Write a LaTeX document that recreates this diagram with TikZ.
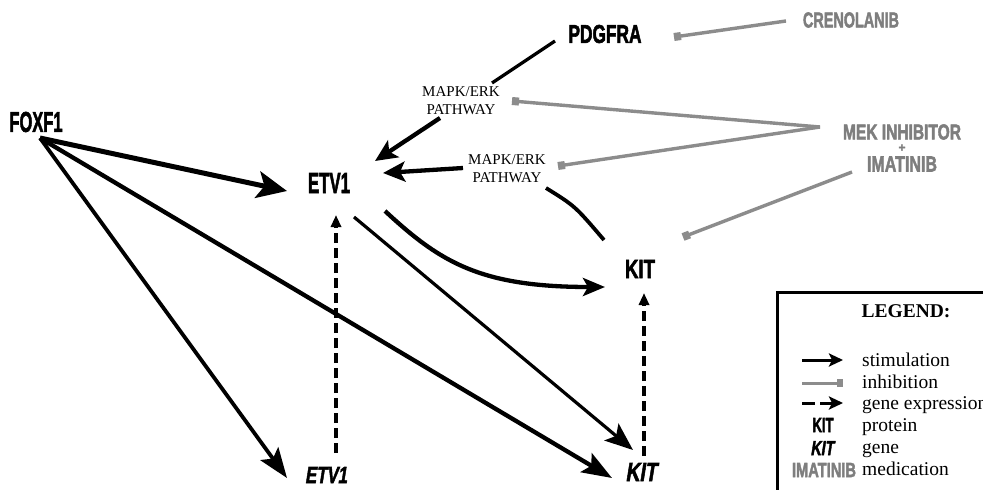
\documentclass[tikz,border=0pt]{standalone}
\usepackage{graphicx}
\usepackage{fontspec}
\setmainfont{Liberation Serif}
\setsansfont{Liberation Sans}
\newfontfamily\heavyfont[FakeBold=2.5]{Liberation Sans Bold}
\newfontfamily\heavyitfont[FakeBold=2.5,FakeSlant=0.22]{Liberation Sans Bold}
\usetikzlibrary{arrows.meta}
\definecolor{medgray}{HTML}{7E7E7E}
\definecolor{inhgray}{HTML}{8C8C8C}
\newcommand{\cnd}[3]{\resizebox{#1pt}{#2pt}{\heavyfont #3}}
\newcommand{\cndi}[3]{\resizebox{#1pt}{#2pt}{\heavyitfont #3}}
\tikzset{
  lbl/.style={inner sep=0pt, outer sep=0pt},
  pathway/.style={inner sep=0pt, align=center, font=\fontsize{15}{18}\selectfont},
  stim/.style={line width=4pt, -{Stealth[length=26pt,width=22pt,inset=6pt]}},
  inhib/.style={draw=inhgray, line width=3.4pt, -{Square[length=7pt,width=8pt]}},
  expr/.style={line width=3.2pt, dash pattern=on 10pt off 5pt, -{Triangle[length=12pt,width=10pt]}},
  plain/.style={line width=3.2pt},
  legtxt/.style={inner sep=0pt, anchor=base west, font=\fontsize{19.5}{22}\selectfont},
}
\begin{document}
\begin{tikzpicture}[x=1pt,y=-1pt]
\useasboundingbox (0,0) rectangle (983,490);
\clip (0,0) rectangle (983,490);
\fill[white] (0,0) rectangle (983,490);

% main labels
\node[lbl] (foxf1) at (36,122) {\cnd{53}{20}{FOXF1}};
\node[lbl] (etv1p) at (329,183) {\cnd{42}{20}{ETV1}};
\node[lbl] (kitp) at (640,269) {\cnd{30}{18}{KIT}};
\node[lbl] (etv1g) at (326,475) {\cndi{42}{16}{ETV1}};
\node[lbl] (kitg) at (641,472) {\cndi{31}{18}{KIT}};
\node[lbl] (pdgfra) at (605,34) {\cnd{73}{18}{PDGFRA}};
\node[lbl,text=medgray] (creno) at (851,20) {\cnd{96}{15}{CRENOLANIB}};
\node[lbl,text=medgray] (mek) at (902,132) {\cnd{118}{15}{MEK INHIBITOR}};
\node[lbl,text=medgray] (plus) at (902,148) {\cnd{7}{7}{+}};
\node[lbl,text=medgray] (imat) at (902,164) {\cnd{70}{15}{IMATINIB}};
\node[pathway] (mapk1) at (461,101) {MAPK/ERK\\PATHWAY};
\node[pathway] (mapk2) at (507,169) {MAPK/ERK\\PATHWAY};

% FOXF1 stimulations
\draw[stim, line width=5pt, -{Stealth[length=30pt,width=27pt,inset=7pt]}]
  ([shift={(4,16)}]foxf1.center) -- ([shift={(-42,8)}]etv1p.center);
\draw[stim, line width=3.8pt, -{Stealth[length=30pt,width=22pt,inset=6pt]}]
  ([shift={(4,16)}]foxf1.center) -- ([shift={(-39,3)}]etv1g.center);
\draw[stim, line width=4.3pt, -{Stealth[length=30pt,width=22pt,inset=6pt]}]
  ([shift={(4,16)}]foxf1.center) -- ([shift={(-29,6)}]kitg.center);

% ETV1 stimulations
\draw[stim, line width=3.2pt, -{Stealth[length=28pt,width=22pt,inset=6pt]}]
  ([shift={(25,34)}]etv1p.center) -- ([shift={(-8,-22)}]kitg.center);
\draw[stim, line width=4.3pt, -{Stealth[length=22pt,width=18pt,inset=5pt]}]
  ([shift={(56,28)}]etv1p.center) .. controls (440,262) and (480,287) .. ([shift={(-35,18)}]kitp.center);

% PDGFRA / KIT to pathways
\draw[plain] ([shift={(-50,7)}]pdgfra.center) -- ([shift={(31,-18)}]mapk1.center);
\draw[plain, line width=3.8pt] ([shift={(-36,-29)}]kitp.center) .. controls (575,206) .. ([shift={(39,19)}]mapk2.center);

% pathways to ETV1
\draw[stim, line width=4.3pt, -{Stealth[length=22pt,width=20pt,inset=5pt]}]
  ([shift={(-21,17)}]mapk1.center) -- ([shift={(46,-22)}]etv1p.center);
\draw[stim, line width=4.3pt, -{Stealth[length=22pt,width=20pt,inset=5pt]}]
  ([shift={(-44,-1)}]mapk2.center) -- ([shift={(54,-10)}]etv1p.center);

% gene expression
\draw[expr] ([shift={(10,-22)}]etv1g.center) -- ([shift={(7,32)}]etv1p.center);
\draw[expr] ([shift={(3,-16)}]kitg.center) -- ([shift={(4,24)}]kitp.center);

% inhibitions
\draw[inhib] ([shift={(-65,1)}]creno.center) -- ([shift={(69,3)}]pdgfra.center);
\coordinate (apex) at ([shift={(-82,-5)}]mek.center);
\draw[inhib] (apex) -- ([shift={(51,0)}]mapk1.center);
\draw[inhib] (apex) -- ([shift={(51,-3)}]mapk2.center);
\draw[inhib] ([shift={(-50,8)}]imat.center) -- ([shift={(43,-32)}]kitp.center);

% legend
\draw[line width=3pt] (777,292) rectangle (1000,510);
\node[inner sep=0pt, anchor=base, font=\fontsize{19.5}{22}\selectfont\bfseries] (legt) at (906,317) {LEGEND:};
\coordinate (s1) at (802,360); \coordinate (e1) at (843,360);
\coordinate (s2) at (802,383); \coordinate (e2) at (843,383);
\coordinate (s3) at (802,403); \coordinate (e3) at (843,403);
\draw[line width=3pt, -{Stealth[length=14pt,width=13pt,inset=3pt]}] (s1) -- (e1);
\draw[inhib, line width=3pt, -{Square[length=6pt,width=8pt]}] (s2) -- (e2);
\draw[line width=3pt, dash pattern=on 13pt off 5pt, -{Stealth[length=14pt,width=13pt,inset=3pt]}] (s3) -- (e3);
\node[lbl] (lkit) at (823,425) {\cnd{21}{14}{KIT}};
\node[lbl] (lkitg) at (822,448) {\cndi{23}{14}{KIT}};
\node[lbl,text=medgray] (limat) at (824,470) {\cnd{64}{14}{IMATINIB}};
\node[legtxt] (t1) at (862,366) {stimulation};
\node[legtxt] (t2) at (862,388) {inhibition};
\node[legtxt] (t3) at (862,409) {gene expression};
\node[legtxt] (t4) at (862,431) {protein};
\node[legtxt] (t5) at (862,453) {gene};
\node[legtxt] (t6) at (862,475) {medication};
\end{tikzpicture}
\end{document}
